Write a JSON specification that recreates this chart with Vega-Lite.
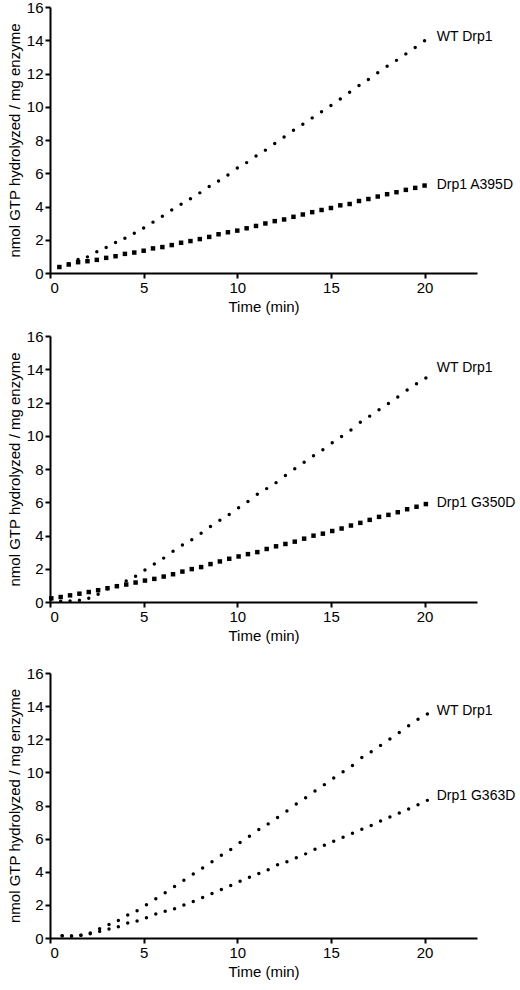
{
  "$schema": "https://vega.github.io/schema/vega-lite/v6.json",
  "padding": {"left": 7, "top": 0, "right": 0, "bottom": 5},
  "background": "white",
  "spacing": 23,
  "config": {
    "view": {"stroke": null},
    "font": "Liberation Sans",
    "axis": {
      "grid": false,
      "domainColor": "black",
      "domainWidth": 2,
      "tickColor": "black",
      "tickWidth": 2,
      "tickSize": 5,
      "labelFont": "Liberation Sans",
      "labelFontSize": 15,
      "labelColor": "black",
      "labelOverlap": false,
      "titleFont": "Liberation Sans",
      "titleFontSize": 15,
      "titleFontWeight": "normal",
      "titleColor": "black"
    },
    "text": {"font": "Liberation Sans", "fontSize": 14, "color": "black", "align": "left", "baseline": "middle"}
  },
  "datasets": {
    "p1": [
      {"t": 0.5, "v": 0.36, "series": "WT"}, {"t": 1.0, "v": 0.56, "series": "WT"}, {"t": 1.5, "v": 0.81, "series": "WT"}, {"t": 2.0, "v": 0.97, "series": "WT"}, {"t": 2.5, "v": 1.28, "series": "WT"}, {"t": 3.0, "v": 1.54, "series": "WT"}, {"t": 3.5, "v": 1.84, "series": "WT"}, {"t": 4.0, "v": 2.09, "series": "WT"}, {"t": 4.5, "v": 2.39, "series": "WT"}, {"t": 5.0, "v": 2.71, "series": "WT"},
      {"t": 5.5, "v": 3.06, "series": "WT"}, {"t": 6.0, "v": 3.42, "series": "WT"}, {"t": 6.5, "v": 3.79, "series": "WT"}, {"t": 7.0, "v": 4.13, "series": "WT"}, {"t": 7.5, "v": 4.47, "series": "WT"}, {"t": 8.0, "v": 4.82, "series": "WT"}, {"t": 8.5, "v": 5.2, "series": "WT"}, {"t": 9.0, "v": 5.53, "series": "WT"}, {"t": 9.5, "v": 5.89, "series": "WT"}, {"t": 10.0, "v": 6.32, "series": "WT"},
      {"t": 10.5, "v": 6.64, "series": "WT"}, {"t": 11.0, "v": 7.04, "series": "WT"}, {"t": 11.5, "v": 7.39, "series": "WT"}, {"t": 12.0, "v": 7.79, "series": "WT"}, {"t": 12.5, "v": 8.18, "series": "WT"}, {"t": 13.0, "v": 8.58, "series": "WT"}, {"t": 13.5, "v": 8.95, "series": "WT"}, {"t": 14.0, "v": 9.33, "series": "WT"}, {"t": 14.5, "v": 9.7, "series": "WT"}, {"t": 15.0, "v": 10.08, "series": "WT"},
      {"t": 15.5, "v": 10.47, "series": "WT"}, {"t": 16.0, "v": 10.87, "series": "WT"}, {"t": 16.5, "v": 11.28, "series": "WT"}, {"t": 17.0, "v": 11.64, "series": "WT"}, {"t": 17.5, "v": 12.04, "series": "WT"}, {"t": 18.0, "v": 12.43, "series": "WT"}, {"t": 18.5, "v": 12.79, "series": "WT"}, {"t": 19.0, "v": 13.18, "series": "WT"}, {"t": 19.5, "v": 13.56, "series": "WT"}, {"t": 20.0, "v": 13.97, "series": "WT"},
      {"t": 0.5, "v": 0.36, "series": "MUT"}, {"t": 1.0, "v": 0.51, "series": "MUT"}, {"t": 1.5, "v": 0.65, "series": "MUT"}, {"t": 2.0, "v": 0.71, "series": "MUT"}, {"t": 2.5, "v": 0.79, "series": "MUT"}, {"t": 3.0, "v": 0.91, "series": "MUT"}, {"t": 3.5, "v": 1.01, "series": "MUT"}, {"t": 4.0, "v": 1.15, "series": "MUT"}, {"t": 4.5, "v": 1.23, "series": "MUT"}, {"t": 5.0, "v": 1.34, "series": "MUT"},
      {"t": 5.5, "v": 1.48, "series": "MUT"}, {"t": 6.0, "v": 1.56, "series": "MUT"}, {"t": 6.5, "v": 1.68, "series": "MUT"}, {"t": 7.0, "v": 1.82, "series": "MUT"}, {"t": 7.5, "v": 1.92, "series": "MUT"}, {"t": 8.0, "v": 2.04, "series": "MUT"}, {"t": 8.5, "v": 2.17, "series": "MUT"}, {"t": 9.0, "v": 2.33, "series": "MUT"}, {"t": 9.5, "v": 2.45, "series": "MUT"}, {"t": 10.0, "v": 2.55, "series": "MUT"},
      {"t": 10.5, "v": 2.69, "series": "MUT"}, {"t": 11.0, "v": 2.83, "series": "MUT"}, {"t": 11.5, "v": 2.98, "series": "MUT"}, {"t": 12.0, "v": 3.12, "series": "MUT"}, {"t": 12.5, "v": 3.22, "series": "MUT"}, {"t": 13.0, "v": 3.38, "series": "MUT"}, {"t": 13.5, "v": 3.52, "series": "MUT"}, {"t": 14.0, "v": 3.66, "series": "MUT"}, {"t": 14.5, "v": 3.79, "series": "MUT"}, {"t": 15.0, "v": 3.91, "series": "MUT"},
      {"t": 15.5, "v": 4.07, "series": "MUT"}, {"t": 16.0, "v": 4.15, "series": "MUT"}, {"t": 16.5, "v": 4.33, "series": "MUT"}, {"t": 17.0, "v": 4.45, "series": "MUT"}, {"t": 17.5, "v": 4.6, "series": "MUT"}, {"t": 18.0, "v": 4.74, "series": "MUT"}, {"t": 18.5, "v": 4.86, "series": "MUT"}, {"t": 19.0, "v": 5.0, "series": "MUT"}, {"t": 19.5, "v": 5.12, "series": "MUT"}, {"t": 20.0, "v": 5.26, "series": "MUT"}
    ],
    "l1": [
      {"t": 20.65, "v": 14.2, "label": "WT Drp1"},
      {"t": 20.65, "v": 5.3, "label": "Drp1 A395D"}
    ],
    "p2": [
      {"t": 0.07, "v": 0.2, "series": "WT"}, {"t": 0.57, "v": 0.05, "series": "WT"}, {"t": 1.07, "v": 0.06, "series": "WT"}, {"t": 1.57, "v": 0.1, "series": "WT"}, {"t": 2.07, "v": 0.22, "series": "WT"}, {"t": 2.57, "v": 0.46, "series": "WT"}, {"t": 3.07, "v": 0.79, "series": "WT"}, {"t": 3.57, "v": 0.99, "series": "WT"}, {"t": 4.07, "v": 1.27, "series": "WT"}, {"t": 4.57, "v": 1.55, "series": "WT"},
      {"t": 5.07, "v": 1.92, "series": "WT"}, {"t": 5.57, "v": 2.28, "series": "WT"}, {"t": 6.07, "v": 2.64, "series": "WT"}, {"t": 6.57, "v": 3.05, "series": "WT"}, {"t": 7.07, "v": 3.43, "series": "WT"}, {"t": 7.57, "v": 3.75, "series": "WT"}, {"t": 8.07, "v": 4.13, "series": "WT"}, {"t": 8.57, "v": 4.54, "series": "WT"}, {"t": 9.07, "v": 4.92, "series": "WT"}, {"t": 9.57, "v": 5.26, "series": "WT"},
      {"t": 10.07, "v": 5.67, "series": "WT"}, {"t": 10.57, "v": 6.05, "series": "WT"}, {"t": 11.07, "v": 6.48, "series": "WT"}, {"t": 11.57, "v": 6.82, "series": "WT"}, {"t": 12.07, "v": 7.18, "series": "WT"}, {"t": 12.57, "v": 7.61, "series": "WT"}, {"t": 13.07, "v": 8.01, "series": "WT"}, {"t": 13.57, "v": 8.41, "series": "WT"}, {"t": 14.07, "v": 8.8, "series": "WT"}, {"t": 14.57, "v": 9.16, "series": "WT"},
      {"t": 15.07, "v": 9.58, "series": "WT"}, {"t": 15.57, "v": 9.95, "series": "WT"}, {"t": 16.07, "v": 10.35, "series": "WT"}, {"t": 16.57, "v": 10.81, "series": "WT"}, {"t": 17.07, "v": 11.18, "series": "WT"}, {"t": 17.57, "v": 11.56, "series": "WT"}, {"t": 18.07, "v": 11.94, "series": "WT"}, {"t": 18.57, "v": 12.33, "series": "WT"}, {"t": 19.07, "v": 12.75, "series": "WT"}, {"t": 19.57, "v": 13.13, "series": "WT"}, {"t": 20.07, "v": 13.47, "series": "WT"},
      {"t": 0.07, "v": 0.22, "series": "MUT"}, {"t": 0.57, "v": 0.3, "series": "MUT"}, {"t": 1.07, "v": 0.4, "series": "MUT"}, {"t": 1.57, "v": 0.5, "series": "MUT"}, {"t": 2.07, "v": 0.6, "series": "MUT"}, {"t": 2.57, "v": 0.71, "series": "MUT"}, {"t": 3.07, "v": 0.83, "series": "MUT"}, {"t": 3.57, "v": 0.95, "series": "MUT"}, {"t": 4.07, "v": 1.05, "series": "MUT"}, {"t": 4.57, "v": 1.17, "series": "MUT"},
      {"t": 5.07, "v": 1.29, "series": "MUT"}, {"t": 5.57, "v": 1.39, "series": "MUT"}, {"t": 6.07, "v": 1.53, "series": "MUT"}, {"t": 6.57, "v": 1.67, "series": "MUT"}, {"t": 7.07, "v": 1.83, "series": "MUT"}, {"t": 7.57, "v": 1.98, "series": "MUT"}, {"t": 8.07, "v": 2.1, "series": "MUT"}, {"t": 8.57, "v": 2.28, "series": "MUT"}, {"t": 9.07, "v": 2.44, "series": "MUT"}, {"t": 9.57, "v": 2.6, "series": "MUT"},
      {"t": 10.07, "v": 2.74, "series": "MUT"}, {"t": 10.57, "v": 2.88, "series": "MUT"}, {"t": 11.07, "v": 3.0, "series": "MUT"}, {"t": 11.57, "v": 3.19, "series": "MUT"}, {"t": 12.07, "v": 3.35, "series": "MUT"}, {"t": 12.57, "v": 3.49, "series": "MUT"}, {"t": 13.07, "v": 3.63, "series": "MUT"}, {"t": 13.57, "v": 3.81, "series": "MUT"}, {"t": 14.07, "v": 3.99, "series": "MUT"}, {"t": 14.57, "v": 4.11, "series": "MUT"},
      {"t": 15.07, "v": 4.27, "series": "MUT"}, {"t": 15.57, "v": 4.42, "series": "MUT"}, {"t": 16.07, "v": 4.6, "series": "MUT"}, {"t": 16.57, "v": 4.76, "series": "MUT"}, {"t": 17.07, "v": 4.94, "series": "MUT"}, {"t": 17.57, "v": 5.12, "series": "MUT"}, {"t": 18.07, "v": 5.24, "series": "MUT"}, {"t": 18.57, "v": 5.4, "series": "MUT"}, {"t": 19.07, "v": 5.58, "series": "MUT"}, {"t": 19.57, "v": 5.73, "series": "MUT"}, {"t": 20.07, "v": 5.89, "series": "MUT"}
    ],
    "l2": [
      {"t": 20.65, "v": 14.07, "label": "WT Drp1"},
      {"t": 20.65, "v": 5.97, "label": "Drp1 G350D"}
    ],
    "p3": [
      {"t": 0.65, "v": 0.14, "series": "WT"}, {"t": 1.15, "v": 0.12, "series": "WT"}, {"t": 1.65, "v": 0.16, "series": "WT"}, {"t": 2.15, "v": 0.3, "series": "WT"}, {"t": 2.65, "v": 0.56, "series": "WT"}, {"t": 3.15, "v": 0.82, "series": "WT"}, {"t": 3.65, "v": 1.06, "series": "WT"}, {"t": 4.15, "v": 1.39, "series": "WT"}, {"t": 4.65, "v": 1.65, "series": "WT"}, {"t": 5.15, "v": 2.01, "series": "WT"},
      {"t": 5.65, "v": 2.37, "series": "WT"}, {"t": 6.15, "v": 2.73, "series": "WT"}, {"t": 6.65, "v": 3.11, "series": "WT"}, {"t": 7.15, "v": 3.49, "series": "WT"}, {"t": 7.65, "v": 3.86, "series": "WT"}, {"t": 8.15, "v": 4.22, "series": "WT"}, {"t": 8.65, "v": 4.6, "series": "WT"}, {"t": 9.15, "v": 5.0, "series": "WT"}, {"t": 9.65, "v": 5.34, "series": "WT"}, {"t": 10.15, "v": 5.76, "series": "WT"},
      {"t": 10.65, "v": 6.14, "series": "WT"}, {"t": 11.15, "v": 6.55, "series": "WT"}, {"t": 11.65, "v": 6.89, "series": "WT"}, {"t": 12.15, "v": 7.27, "series": "WT"}, {"t": 12.65, "v": 7.67, "series": "WT"}, {"t": 13.15, "v": 8.09, "series": "WT"}, {"t": 13.65, "v": 8.47, "series": "WT"}, {"t": 14.15, "v": 8.88, "series": "WT"}, {"t": 14.65, "v": 9.26, "series": "WT"}, {"t": 15.15, "v": 9.66, "series": "WT"},
      {"t": 15.65, "v": 10.04, "series": "WT"}, {"t": 16.15, "v": 10.42, "series": "WT"}, {"t": 16.65, "v": 10.9, "series": "WT"}, {"t": 17.15, "v": 11.24, "series": "WT"}, {"t": 17.65, "v": 11.63, "series": "WT"}, {"t": 18.15, "v": 12.01, "series": "WT"}, {"t": 18.65, "v": 12.41, "series": "WT"}, {"t": 19.15, "v": 12.81, "series": "WT"}, {"t": 19.65, "v": 13.21, "series": "WT"}, {"t": 20.15, "v": 13.53, "series": "WT"},
      {"t": 0.65, "v": 0.14, "series": "MUT"}, {"t": 1.15, "v": 0.12, "series": "MUT"}, {"t": 1.65, "v": 0.16, "series": "MUT"}, {"t": 2.15, "v": 0.26, "series": "MUT"}, {"t": 2.65, "v": 0.4, "series": "MUT"}, {"t": 3.15, "v": 0.54, "series": "MUT"}, {"t": 3.65, "v": 0.68, "series": "MUT"}, {"t": 4.15, "v": 0.9, "series": "MUT"}, {"t": 4.65, "v": 1.02, "series": "MUT"}, {"t": 5.15, "v": 1.22, "series": "MUT"},
      {"t": 5.65, "v": 1.45, "series": "MUT"}, {"t": 6.15, "v": 1.61, "series": "MUT"}, {"t": 6.65, "v": 1.77, "series": "MUT"}, {"t": 7.15, "v": 1.99, "series": "MUT"}, {"t": 7.65, "v": 2.21, "series": "MUT"}, {"t": 8.15, "v": 2.45, "series": "MUT"}, {"t": 8.65, "v": 2.69, "series": "MUT"}, {"t": 9.15, "v": 2.93, "series": "MUT"}, {"t": 9.65, "v": 3.17, "series": "MUT"}, {"t": 10.15, "v": 3.43, "series": "MUT"},
      {"t": 10.65, "v": 3.67, "series": "MUT"}, {"t": 11.15, "v": 3.9, "series": "MUT"}, {"t": 11.65, "v": 4.12, "series": "MUT"}, {"t": 12.15, "v": 4.42, "series": "MUT"}, {"t": 12.65, "v": 4.6, "series": "MUT"}, {"t": 13.15, "v": 4.84, "series": "MUT"}, {"t": 13.65, "v": 5.08, "series": "MUT"}, {"t": 14.15, "v": 5.36, "series": "MUT"}, {"t": 14.65, "v": 5.6, "series": "MUT"}, {"t": 15.15, "v": 5.84, "series": "MUT"},
      {"t": 15.65, "v": 6.08, "series": "MUT"}, {"t": 16.15, "v": 6.33, "series": "MUT"}, {"t": 16.65, "v": 6.57, "series": "MUT"}, {"t": 17.15, "v": 6.79, "series": "MUT"}, {"t": 17.65, "v": 7.07, "series": "MUT"}, {"t": 18.15, "v": 7.31, "series": "MUT"}, {"t": 18.65, "v": 7.55, "series": "MUT"}, {"t": 19.15, "v": 7.79, "series": "MUT"}, {"t": 19.65, "v": 8.05, "series": "MUT"}, {"t": 20.15, "v": 8.31, "series": "MUT"}
    ],
    "l3": [
      {"t": 20.65, "v": 13.7, "label": "WT Drp1"},
      {"t": 20.65, "v": 8.55, "label": "Drp1 G363D"}
    ]
  },
  "vconcat": [
    {
      "spacing": 15,
      "vconcat": [
        {
          "width": 427, "height": 266,
          "encoding": {
            "x": {"field": "t", "type": "quantitative", "scale": {"domain": [0, 22.8], "nice": false}, "axis": {"values": [0, 5, 10, 15, 20], "labelOverlap": false, "title": "Time (min)"}},
            "y": {"field": "v", "type": "quantitative", "scale": {"domain": [0, 16], "nice": false}, "axis": {"values": [0, 2, 4, 6, 8, 10, 12, 14, 16], "tickCount": 9, "labelOverlap": false, "title": "nmol GTP hydrolyzed / mg enzyme"}}
          },
          "layer": [
            {
              "data": {"name": "p1"},
              "transform": [{"filter": "datum.series === 'WT'"}],
              "mark": {"type": "point", "shape": "circle", "filled": true, "size": 12, "color": "black", "opacity": 1}
            },
            {
              "data": {"name": "p1"},
              "transform": [{"filter": "datum.series === 'MUT'"}],
              "mark": {"type": "point", "shape": "square", "filled": true, "size": 20, "color": "black", "opacity": 1}
            },
            {
              "data": {"name": "l1"},
              "mark": {"type": "text"},
              "encoding": {"text": {"field": "label"}}
            }
          ]
        },
        {
          "width": 427, "height": 266,
          "encoding": {
            "x": {"field": "t", "type": "quantitative", "scale": {"domain": [0, 22.8], "nice": false}, "axis": {"values": [0, 5, 10, 15, 20], "labelOverlap": false, "title": "Time (min)"}},
            "y": {"field": "v", "type": "quantitative", "scale": {"domain": [0, 16], "nice": false}, "axis": {"values": [0, 2, 4, 6, 8, 10, 12, 14, 16], "tickCount": 9, "labelOverlap": false, "title": "nmol GTP hydrolyzed / mg enzyme"}}
          },
          "layer": [
            {
              "data": {"name": "p2"},
              "transform": [{"filter": "datum.series === 'WT'"}],
              "mark": {"type": "point", "shape": "circle", "filled": true, "size": 12, "color": "black", "opacity": 1}
            },
            {
              "data": {"name": "p2"},
              "transform": [{"filter": "datum.series === 'MUT'"}],
              "mark": {"type": "point", "shape": "square", "filled": true, "size": 20, "color": "black", "opacity": 1}
            },
            {
              "data": {"name": "l2"},
              "mark": {"type": "text"},
              "encoding": {"text": {"field": "label"}}
            }
          ]
        }
      ]
    },
    {
      "width": 427, "height": 265,
      "encoding": {
        "x": {"field": "t", "type": "quantitative", "scale": {"domain": [0, 22.8], "nice": false}, "axis": {"values": [0, 5, 10, 15, 20], "labelOverlap": false, "title": "Time (min)"}},
        "y": {"field": "v", "type": "quantitative", "scale": {"domain": [0, 16], "nice": false}, "axis": {"values": [0, 2, 4, 6, 8, 10, 12, 14, 16], "tickCount": 9, "labelOverlap": false, "title": "nmol GTP hydrolyzed / mg enzyme"}}
      },
      "layer": [
        {
          "data": {"name": "p3"},
          "mark": {"type": "point", "shape": "circle", "filled": true, "size": 12, "color": "black", "opacity": 1},
          "encoding": {"detail": {"field": "series"}}
        },
        {
          "data": {"name": "l3"},
          "mark": {"type": "text"},
          "encoding": {"text": {"field": "label"}}
        }
      ]
    }
  ]
}
